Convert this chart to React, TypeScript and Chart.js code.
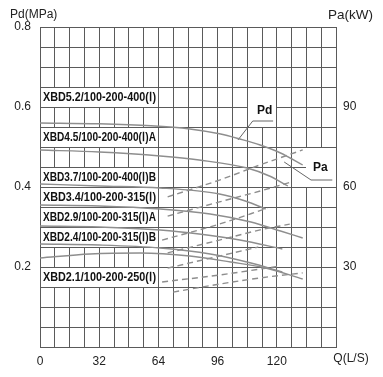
import React, { useEffect, useRef } from "react";
import { Chart, registerables } from "chart.js";
Chart.register(...registerables);

const models = [
  "XBD5.2/100-200-400(Ⅰ)",
  "XBD4.5/100-200-400(Ⅰ)A",
  "XBD3.7/100-200-400(Ⅰ)B",
  "XBD3.4/100-200-315(Ⅰ)",
  "XBD2.9/100-200-315(Ⅰ)A",
  "XBD2.4/100-200-315(Ⅰ)B",
  "XBD2.1/100-200-250(Ⅰ)",
];

// Pd (MPa) curves vs Q (L/S)
const q52 = [0, 32, 60, 81, 97, 108, 119, 130, 142];
const pd52 = [0.56, 0.558, 0.553, 0.545, 0.533, 0.52, 0.505, 0.485, 0.455];
const q45 = [0, 32, 65, 86, 112, 124, 134];
const pd45 = [0.4925, 0.4875, 0.4775, 0.4675, 0.4475, 0.4275, 0.4025];
const q37 = [0, 32, 65, 97, 111, 122];
const pd37 = [0.4075, 0.4025, 0.3975, 0.3825, 0.365, 0.345];
const q34 = [0, 32, 65, 92, 114, 130, 142];
const pd34 = [0.355, 0.3525, 0.345, 0.3325, 0.3125, 0.29, 0.2725];
const q29 = [0, 32, 65, 86, 108, 131];
const pd29 = [0.3025, 0.3, 0.2925, 0.2825, 0.2675, 0.245];
const q24 = [0, 32, 65, 92, 114, 131];
const pd24 = [0.2575, 0.255, 0.2475, 0.2325, 0.21, 0.1875];
const q21 = [0, 27, 54, 81, 103, 122, 142];
const pd21 = [0.2225, 0.2325, 0.235, 0.2275, 0.2125, 0.1975, 0.17];

// Pa (kW) curves vs Q (L/S)
const paQ52 = [69, 97, 119, 142];
const pa52 = [56.3, 62.6, 68.3, 73.9];
const paQ45 = [69, 97, 119, 136];
const pa45 = [49.1, 54.4, 58.5, 61.9];
const paQ37 = [66, 97, 123];
const pa37 = [40.1, 46.1, 52.1];
const paQ34 = [69, 97, 119, 135];
const pa34 = [35.3, 40.1, 43.9, 46.1];
const paQ29 = [69, 97, 118];
const pa29 = [29.6, 34.1, 37.5];
const paQ24 = [66, 97, 130];
const pa24 = [24.4, 27.0, 30.4];
const paQ21 = [72, 97, 119, 142];
const pa21 = [20.6, 23.6, 25.9, 27.8];

// leader lines for the "Pd" / "Pa" callouts
const pdLeaderQ = [107, 115, 126];
const pdLeaderP = [0.5175, 0.565, 0.565];
const paLeaderQ = [132, 146.5, 158];
const paLeaderP = [0.4625, 0.4175, 0.4175];

const xTickLabels: Record<number, string> = { 0: "0", 32: "32", 64: "64", 96: "96", 128: "120" };
const paTicks = [30, 60, 90];

const zip = (xs: number[], ys: number[]) => xs.map((x, i) => ({ x, y: ys[i] }));

const GRID = "#5a5a5a";
const CURVE = "#8e8e8e";
const FONT = '"Liberation Sans", Arial, sans-serif';

const annot = {
  id: "annot",
  beforeDatasetsDraw(chart: any) {
    const { ctx } = chart;
    const xs = chart.scales.x;
    const ys = chart.scales.y;
    const col = (q: number) => Math.round(xs.getPixelForValue(q) - 0.5);
    const row = (p: number) => Math.round(ys.getPixelForValue(p) - 0.5);
    const cell = (q0: number, q1: number, p0: number, p1: number, inclLeft = false) => {
      const x0 = col(q0), x1 = col(q1);
      const y0 = row(p1), y1 = row(p0);
      const left = inclLeft ? x0 : x0 + 1;
      ctx.fillRect(left, y0 + 1, x1 - left, y1 - y0 - 1);
    };
    ctx.save();
    ctx.fillStyle = "#ffffff";
    const tops = [0.65, 0.55, 0.45, 0.4, 0.35, 0.3, 0.2];
    tops.forEach((t) => cell(0, 64, t - 0.05, t));
    cell(112, 128, 0.55, 0.65);
    cell(144, 160, 0.4, 0.5, true);
    ctx.fillStyle = "#111";
    ctx.font = "bold 12px " + FONT;
    ctx.textBaseline = "middle";
    ctx.textAlign = "left";
    const x0 = xs.getPixelForValue(0) + 3;
    tops.forEach((t, i) => {
      const y = ys.getPixelForValue(t - 0.025) + 0.5;
      ctx.fillText(models[i], x0, y, 113);
    });
    ctx.textAlign = "center";
    ctx.font = "bold 12px " + FONT;
    ctx.fillText("Pd", xs.getPixelForValue(121.5), ys.getPixelForValue(0.59));
    ctx.fillText("Pa", xs.getPixelForValue(151.5), ys.getPixelForValue(0.4475));
    ctx.restore();
  },
  afterDraw(chart: any) {
    const { ctx } = chart;
    ctx.save();
    ctx.fillStyle = "#222";
    ctx.font = "12px " + FONT;
    ctx.textBaseline = "middle";
    ctx.textAlign = "left";
    ctx.fillText("Pd(MPa)", 10, 15);
    ctx.font = "13.5px " + FONT;
    ctx.textAlign = "right";
    ctx.fillText("Pa(kW)", 373, 15);
    ctx.font = "12px " + FONT;
    ctx.textAlign = "center";
    ctx.fillText("Q(L/S)", 351, 359);
    ctx.restore();
  },
};

export default function App() {
  const ref = useRef<HTMLCanvasElement>(null);
  useEffect(() => {
    if (!ref.current) return;
    const pdSets = [
      [q52, pd52], [q45, pd45], [q37, pd37], [q34, pd34], [q29, pd29], [q24, pd24], [q21, pd21],
    ].map(([q, p]) => ({
      data: zip(q, p),
      yAxisID: "y",
      borderColor: CURVE,
      borderWidth: 1.4,
      pointRadius: 0,
      tension: 0.4,
      cubicInterpolationMode: "monotone" as const,
    }));
    const paSets = [
      [paQ52, pa52], [paQ45, pa45], [paQ37, pa37], [paQ34, pa34], [paQ29, pa29], [paQ24, pa24], [paQ21, pa21],
    ].map(([q, p]) => ({
      data: zip(q, p),
      yAxisID: "y2",
      borderColor: CURVE,
      borderWidth: 1.4,
      borderDash: [6, 4],
      pointRadius: 0,
      tension: 0.4,
      cubicInterpolationMode: "monotone" as const,
    }));
    const leaders = [
      [pdLeaderQ, pdLeaderP], [paLeaderQ, paLeaderP],
    ].map(([q, p]) => ({
      data: zip(q, p),
      yAxisID: "y",
      borderColor: "#666",
      borderWidth: 1,
      pointRadius: 0,
      tension: 0,
    }));
    const chart = new Chart(ref.current, {
      type: "line",
      data: { datasets: [...pdSets, ...paSets, ...leaders] as any },
      options: {
        animation: false,
        responsive: true,
        maintainAspectRatio: false,
        layout: { padding: { top: 27, left: 0, right: 0, bottom: 0 } },
        plugins: { legend: { display: false }, tooltip: { enabled: false } },
        scales: {
          x: {
            type: "linear",
            min: 0,
            max: 160,
            afterFit: (s: any) => { s.height = 30; },
            grid: { color: GRID, lineWidth: 1, drawTicks: false },
            border: { color: GRID },
            ticks: {
              stepSize: 8,
              autoSkip: false,
              maxRotation: 0,
              padding: 7,
              color: "#222",
              font: { family: FONT, size: 12 },
              callback: (v: any) => xTickLabels[Math.round(Number(v))] ?? "",
            },
          },
          y: {
            type: "linear",
            min: 0,
            max: 0.8,
            position: "left",
            afterFit: (s: any) => { s.width = 40; },
            grid: { color: GRID, lineWidth: 1, drawTicks: false },
            border: { color: GRID },
            ticks: {
              stepSize: 0.05,
              autoSkip: false,
              padding: 9,
              color: "#222",
              font: { family: FONT, size: 12 },
              callback: (v: any) => {
                const r = Math.round(Number(v) * 100);
                return r > 0 && r % 20 === 0 ? (r / 100).toFixed(1) : "";
              },
            },
          },
          y2: {
            type: "linear",
            min: 0,
            max: 120,
            position: "right",
            afterFit: (s: any) => { s.width = 47; },
            grid: { display: false, drawTicks: false },
            border: { display: false },
            ticks: {
              stepSize: 7.5,
              autoSkip: false,
              padding: 7,
              color: "#222",
              font: { family: FONT, size: 12 },
              callback: (v: any) => {
                const r = Math.round(Number(v) * 10) / 10;
                return paTicks.includes(r) ? String(r) : "";
              },
            },
          },
        },
      },
      plugins: [annot],
    });
    return () => chart.destroy();
  }, []);
  return (
    <div style={{ position: "fixed", left: 0, top: 0, width: 383, height: 377, background: "#fff" }}>
      <canvas ref={ref} />
    </div>
  );
}
